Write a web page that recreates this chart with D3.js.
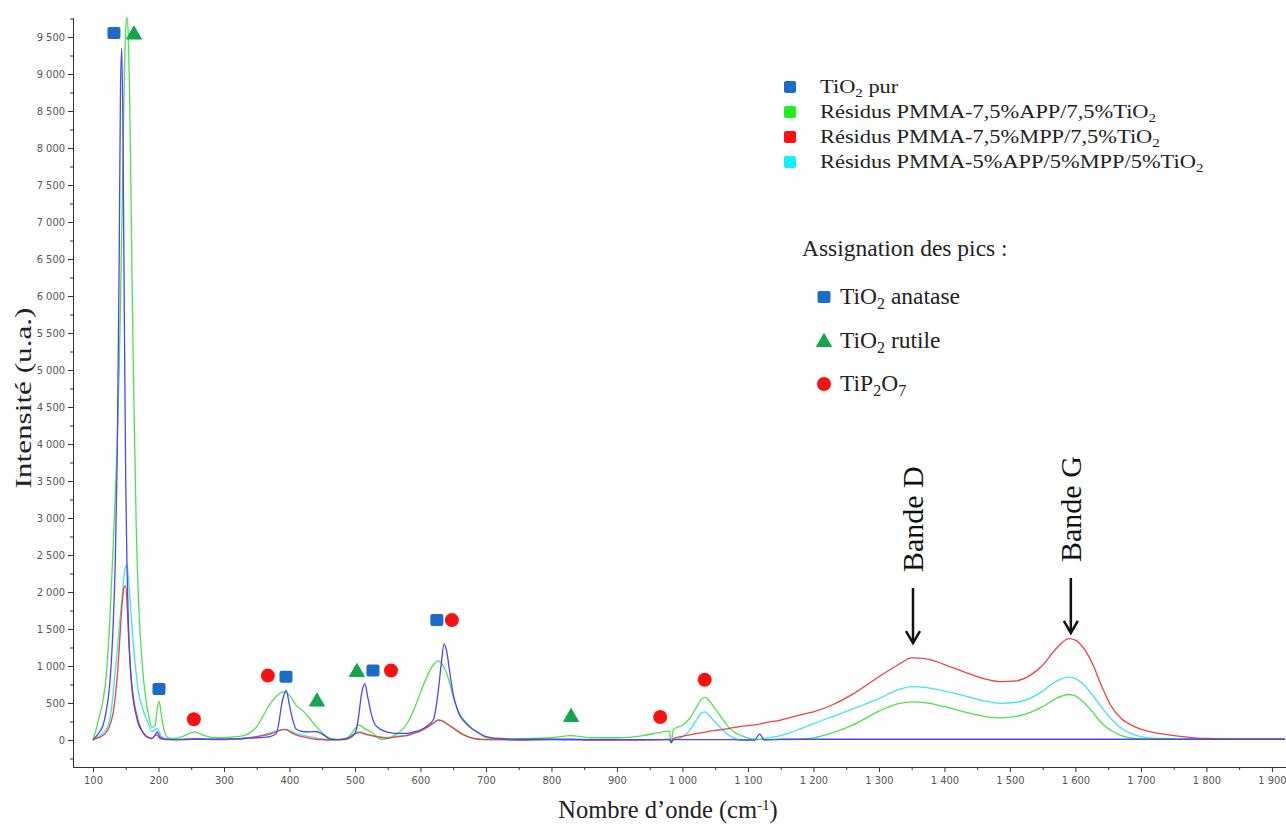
<!DOCTYPE html>
<html><head><meta charset="utf-8">
<script src="https://cdn.jsdelivr.net/npm/d3@7"></script>
<style>body{margin:0;background:#fff} svg{display:block}</style>
</head><body><svg id="chart" width="1286" height="825"></svg>
<script>
// ---------- DATA ----------
const wavenumber = [
 100,105,110,115,120,125,128,131,134,137,140,142,144,146,148,150,152,154,156,158,160,
 163,166,170,175,180,185,190,195,198,201,204,208,215,225,240,255,
 270,290,310,330,340,350,360,370,380,390,395,400,405,410,420,430,440,450,460,470,480,490,500,
 505,510,515,520,525,530,540,550,560,570,580,590,600,610,620,627,632,636,640,645,650,655,660,667,675,688,700,
 720,750,800,830,860,900,940,970,980,983,986,1000,1010,1020,1030,1035,1040,1050,1060,1070,1080,1090,1100,1110,1118,1125,
 1150,1180,1200,1230,1260,1300,1330,1350,1370,1400,1430,1460,1485,1510,1530,1550,1570,1590,1600,1610,1625,1640,1655,1670,1690,1710,1730,1760,1800,1850,1900,1920
];
const tio2Pur = [
 0,50,110,190,380,700,1050,1600,2400,3800,6500,8800,9350,8000,5600,3500,2300,1600,1150,850,650,
 460,330,200,120,60,30,20,70,110,60,30,15,10,5,5,10,
 10,10,15,20,25,30,35,45,90,560,670,470,270,150,115,110,115,80,20,5,5,20,90,
 280,620,760,560,350,220,140,105,90,90,90,110,135,190,280,650,1050,1300,1200,900,620,450,330,250,180,100,45,
 20,10,10,10,5,5,5,5,5,-30,5,5,5,5,5,5,5,5,5,5,5,0,0,0,80,0,
 10,10,10,10,10,10,10,10,10,10,10,10,10,10,10,10,10,10,10,10,10,10,10,10,10,10,10,10,10,10,10,10
];
const pmmaApp = [
 0,150,330,520,850,1500,2050,2650,3300,4000,5000,5900,6900,8000,9000,9600,9770,9500,8700,7400,6000,
 4300,2900,1800,1050,600,330,170,200,420,520,360,150,30,20,60,110,
 60,30,40,60,100,180,330,480,590,650,640,600,540,470,400,300,190,100,30,10,5,40,150,
 200,190,150,130,110,70,10,20,60,120,230,410,640,860,1020,1070,1040,980,900,760,580,450,350,260,180,100,30,
 15,15,30,60,30,30,60,110,120,-40,140,200,280,420,560,575,540,420,300,180,100,60,30,10,5,5,
 5,10,30,100,200,390,490,515,505,450,380,320,300,320,370,450,560,615,595,530,390,230,125,60,20,10,10,10,10,10,10,10
];
const pmmaMpp = [
 0,20,35,60,100,180,260,380,580,850,1230,1520,1780,1980,2080,2080,1850,1450,1130,880,690,
 500,370,230,120,60,35,20,60,70,30,15,10,5,5,10,15,
 10,5,10,20,30,45,60,80,110,140,140,115,90,70,45,25,10,5,0,5,10,30,80,
 100,95,80,70,60,50,35,25,40,50,60,90,120,170,230,270,265,245,220,190,160,130,100,65,35,10,5,
 5,0,5,5,0,0,0,5,10,-40,20,50,70,85,100,105,115,130,140,155,170,185,195,205,215,230,
 270,340,380,480,620,855,1020,1110,1100,1020,920,830,790,800,870,1010,1230,1370,1350,1270,1050,730,450,290,180,120,85,50,20,10,10,10
];
const pmmaAppMpp = [
 0,30,55,90,140,250,400,650,930,1200,1520,1700,1900,2080,2250,2340,2365,2200,1970,1720,1480,
 1150,900,620,450,320,210,115,140,160,110,55,25,10,5,10,20,
 15,10,15,25,35,50,70,95,120,140,145,130,110,90,65,45,30,15,5,0,10,40,90,
 110,105,90,75,65,55,40,35,45,55,70,95,130,175,230,265,260,245,225,195,165,135,105,70,40,15,5,
 5,0,5,0,0,5,5,5,5,0,5,40,120,250,370,380,340,240,150,70,20,5,5,5,10,20,
 60,150,220,320,420,560,680,720,710,660,600,530,495,510,560,660,790,850,830,770,620,440,280,160,70,30,20,15,15,15,15,15
];
const seriesLabels = ["TiO_2 pur","Résidus PMMA-7,5%APP/7,5%TiO_2","Résidus PMMA-7,5%MPP/7,5%TiO_2","Résidus PMMA-5%APP/5%MPP/5%TiO_2"];
const seriesValues = [tio2Pur, pmmaApp, pmmaMpp, pmmaAppMpp];
const lineColors = ["#4a4ae6","#4fe04f","#e84444","#3fe3f0"];
const legendColors = ["#1a6cc4","#1ef01e","#ff1010","#10f0ff"];
const drawOrder = [3,1,2,0];

const xMajorTicks = d3.range(100, 1901, 100);
const xMinorTicks = d3.range(150, 1901, 100);
const yMajorTicks = d3.range(0, 9501, 500);
const yMinorTicks = d3.range(-250, 9751, 500);

const anatasePeaks = [[132,9554],[200.8,690],[394.7,855],[527.5,940],[625,1620]];
const rutilePeaks = [[162.6,9554],[442,540],[503,940],[830,330]];
const tip2o7Peaks = [[254,280],[367,870],[555,940],[648,1620],[966,310],[1034,815]];
const assignLabels = ["TiO_2 anatase","TiO_2 rutile","TiP_2O_7"];
const assignColors = ["#1a6cc4","#13a64b","#ff1010"];

const bandLabels = ["Bande D","Bande G"];
const bandWavenumber = [1352, 1593];
const bandTipIntensity = [1310, 1446];

// ---------- CHART ----------
const svg = d3.select("#chart");
const x = d3.scaleLinear().domain([69.5, 1921.5]).range([73, 1286]);
const y = d3.scaleLinear().domain([-365, 9757]).range([767, 18]);
const loc = d3.formatLocale({decimal:",", thousands:"\u00a0", grouping:[3], currency:["",""]});
const fmt = loc.format(",d");
const tickFont = "'Liberation Sans Narrow','DejaVu Sans Condensed',sans-serif";
const serif = "'Liberation Serif','Times New Roman',serif";

function styleAxis(g){
  g.selectAll("path,line").attr("stroke","#333").attr("stroke-width",1);
  g.selectAll("text").attr("fill","#555").attr("font-family",tickFont).attr("font-size",11);
}
svg.append("g").attr("transform","translate(0,767)")
  .call(d3.axisBottom(x).tickValues(xMinorTicks).tickSize(3).tickSizeOuter(0).tickFormat(""))
  .call(styleAxis);
svg.append("g").attr("transform","translate(0,767)")
  .call(d3.axisBottom(x).tickValues(xMajorTicks).tickSize(5).tickSizeOuter(0).tickFormat(fmt).tickPadding(4))
  .call(styleAxis);
svg.append("g").attr("transform","translate(73,0)")
  .call(d3.axisLeft(y).tickValues(yMinorTicks).tickSize(3).tickSizeOuter(0).tickFormat(""))
  .call(styleAxis);
svg.append("g").attr("transform","translate(73,0)")
  .call(d3.axisLeft(y).tickValues(yMajorTicks).tickSize(5).tickSizeOuter(0).tickFormat(fmt).tickPadding(3))
  .call(styleAxis);

// lines
const line = d3.line().curve(d3.curveMonotoneX);
drawOrder.forEach(si => {
  const pts = wavenumber.map((w,i) => [x(w), y(seriesValues[si][i])]);
  svg.append("path").attr("d", line(pts)).attr("fill","none")
    .attr("stroke", lineColors[si]).attr("stroke-width",1.3).attr("stroke-linejoin","round");
});

// rich text helper
function rich(sel, str, sub, dd){
  const parts = str.split(/_(\d)/);
  let down = false;
  parts.forEach((p,i) => {
    if (!p) return;
    if (i % 2 === 1) { sel.append("tspan").attr("font-size", sub).attr("dy", dd).text(p); down = true; }
    else { const t = sel.append("tspan").text(p); if (down) { t.attr("dy", -dd); down = false; } }
  });
}

// markers
const sq = 13;
function drawSquare(g, cx, cy, col){ g.append("rect").attr("x",cx-sq/2).attr("y",cy-sq/2+0.5).attr("width",sq).attr("height",sq-1).attr("rx",2).attr("fill",col); }
function drawTri(g, cx, cy, col){ g.append("path").attr("d",`M${cx},${cy-7}L${cx+7.5},${cy+6}L${cx-7.5},${cy+6}Z`).attr("fill",col).attr("stroke",col).attr("stroke-width",1).attr("stroke-linejoin","round"); }
function drawCirc(g, cx, cy, col){ g.append("circle").attr("cx",cx).attr("cy",cy).attr("r",7).attr("fill",col); }
const mg = svg.append("g");
anatasePeaks.forEach(p => drawSquare(mg, x(p[0]), y(p[1]), assignColors[0]));
rutilePeaks.forEach(p => drawTri(mg, x(p[0]), y(p[1]), assignColors[1]));
tip2o7Peaks.forEach(p => drawCirc(mg, x(p[0]), y(p[1]), assignColors[2]));

// series legend
const lg = svg.append("g");
seriesLabels.forEach((s,i) => {
  const cy = 87 + i*25;
  lg.append("rect").attr("x",784).attr("y",cy-6).attr("width",12).attr("height",12).attr("rx",2).attr("fill",legendColors[i]);
  const t = lg.append("text").attr("transform",`translate(820,${cy+6}) scale(1.15,1)`)
    .attr("font-family",serif).attr("font-size",19.5).attr("fill","#222");
  rich(t, s, 13, 4);
});

// assignment legend
svg.append("text").attr("x",802).attr("y",256).attr("font-family",serif).attr("font-size",23.5).attr("fill","#222").text("Assignation des pics :");
const ag = svg.append("g");
[drawSquare, drawTri, drawCirc].forEach((f,i) => {
  const cy = 297 + i*43.5;
  f(ag, 824, cy, assignColors[i]);
  const t = ag.append("text").attr("x",840).attr("y",cy+7).attr("font-family",serif).attr("font-size",23.5).attr("fill","#222");
  rich(t, assignLabels[i], 16, 5);
});

// band annotations
bandLabels.forEach((lab,i) => {
  const bx = x(bandWavenumber[i]);
  const tip = y(bandTipIntensity[i]);
  const tail = tip - 55;
  svg.append("line").attr("x1",bx).attr("x2",bx).attr("y1",tail).attr("y2",tip-1).attr("stroke","#111").attr("stroke-width",2.5);
  svg.append("path").attr("d",`M${bx-7},${tip-12}L${bx},${tip}L${bx+7},${tip-12}`).attr("fill","none").attr("stroke","#111").attr("stroke-width",2.5);
  svg.append("text").attr("transform",`translate(${bx+10},${tail-16}) rotate(-90)`)
    .attr("font-family",serif).attr("font-size",30).attr("fill","#111").text(lab);
});

// axis titles
svg.append("text").attr("transform","translate(31,398) rotate(-90) scale(1.3,1)").attr("text-anchor","middle")
  .attr("font-family",serif).attr("font-size",24).attr("fill","#222").text("Intensité (u.a.)");
const xt = svg.append("text").attr("x",668).attr("y",818).attr("text-anchor","middle")
  .attr("font-family",serif).attr("font-size",24.5).attr("fill","#222");
xt.append("tspan").text("Nombre d’onde (cm");
xt.append("tspan").attr("font-size",15).attr("dy",-8).text("-1");
xt.append("tspan").attr("dy",8).text(")");
</script>
</body></html>
